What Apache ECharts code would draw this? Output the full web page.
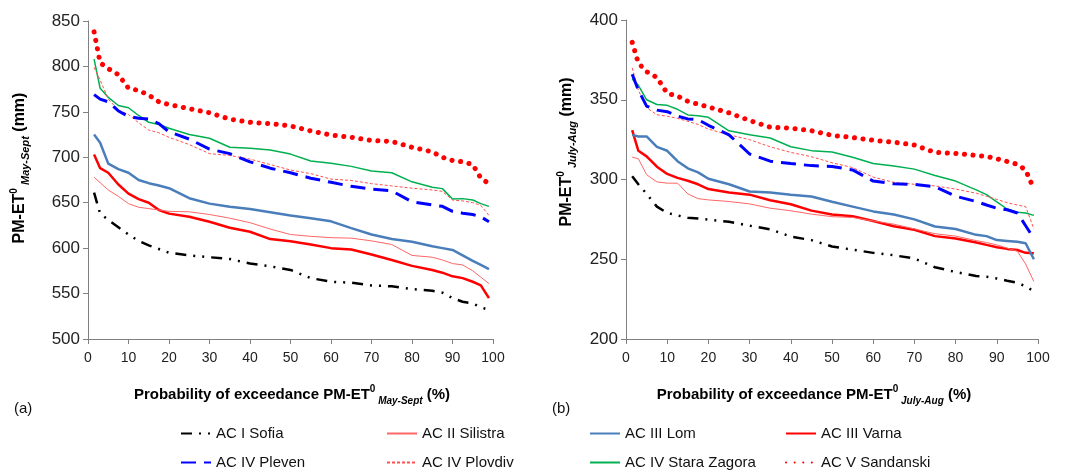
<!DOCTYPE html>
<html>
<head>
<meta charset="UTF-8">
<title>PM-ET0 exceedance</title>
<script src="https://cdn.jsdelivr.net/npm/echarts@6/dist/echarts.min.js"></script>
<style>
	body { margin: 0; background: #fff; }
	#main { width: 1072px; height: 470px; }
</style>
</head>
<body>
<div id="main"></div>
<script type="text/javascript">
	// probability of exceedance (%), shared by both panels
	var xs = [1.5, 3, 5, 7.5, 10, 12.5, 15, 17.5, 20, 25, 30, 35, 40, 45, 50, 55, 60, 65, 70, 75, 80, 85, 87.5, 90, 92.5, 95, 97, 99];
	var yTicksA = [500, 850, 50];
	var yTicksB = [200, 400, 50];

	var names = ['AC I Sofia', 'AC II Silistra', 'AC III Lom', 'AC III Varna',
		'AC IV Pleven', 'AC IV Plovdiv', 'AC IV Stara Zagora', 'AC V Sandanski'];

	// (a) May-Sept
	var sofiaA = [661, 638, 631, 623, 615, 608, 603, 599, 595, 592, 590, 588, 583, 580, 576, 567, 563, 562, 559, 558, 555, 553, 551, 545, 541, 539, 535, 532];
	var silistraA = [678, 672, 664, 657, 649, 645, 643.5, 642, 640.5, 640, 637, 633, 628, 621, 615, 613, 611.5, 611, 608, 604, 592, 590, 587, 583, 581.5, 575, 568, 561];
	var lomA = [725, 716, 693, 687, 683, 675, 671.5, 669, 666, 655, 649, 645.5, 643, 639.5, 636, 633, 629.5, 622, 615, 610, 607, 602, 600, 598, 592, 586, 581.5, 577];
	var varnaA = [703, 688, 683, 670, 660, 654, 650, 642, 638, 634.5, 629, 622.5, 618, 610, 607.5, 604, 600, 598.5, 593, 587, 580.5, 576, 573, 569, 567, 563, 559, 545];
	var plevenA = [769, 764, 761, 751, 745, 743, 742, 737, 728, 720, 709, 704, 695, 688, 683, 677, 672.5, 668, 665, 663, 651, 647.5, 646, 640.5, 638.5, 637, 634.5, 629];
	var plovdivA = [799, 785, 764, 752, 747, 738, 730, 727, 722, 714, 704, 702, 698, 692, 686, 682, 676, 674.5, 671, 668.5, 666, 664, 662.5, 653, 652, 650, 647, 636];
	var zagoraA = [808, 776, 766, 757, 754.5, 746, 738.5, 736, 732, 725, 721, 711, 710, 708, 703.5, 696, 693.5, 690, 685, 683, 673, 667, 665.5, 654, 654.5, 653, 649, 646];
	var sandanskiA = [838, 804, 797.5, 791, 776, 773.5, 768.5, 761, 758, 753.5, 749, 742, 738.5, 737, 734.5, 729, 724.5, 722, 718.5, 717.5, 711, 706, 700, 696.5, 695, 692, 677, 671];

	// (b) July-Aug
	var sofiaB = [302, 297, 291, 283, 279, 277.5, 276, 275.5, 274.8, 273.5, 271, 268.8, 264.2, 262, 258, 256, 254, 252.5, 250.5, 245, 242, 239.5, 239, 238, 236.5, 235.3, 233, 230];
	var silistraB = [314, 313, 303, 298.5, 297.7, 297.7, 291, 288, 287.2, 286.2, 284.7, 282, 280.4, 278.3, 276.7, 276.2, 274, 272, 269, 266, 264.5, 261.7, 260.5, 259, 257, 255, 247, 236];
	var lomB = [328, 327, 327, 320.5, 318, 311.5, 307, 304.5, 300.5, 297, 292.5, 291.8, 290.4, 289.3, 286, 283, 280, 278, 275, 270.5, 269, 265.3, 264.5, 262, 261.5, 261, 260, 250];
	var varnaB = [331, 318, 314.5, 308, 303.5, 301, 299.2, 297, 294, 291.8, 290.5, 287, 284.5, 280.5, 278, 277, 274, 270.7, 268.5, 264.5, 263, 260.5, 259, 257.5, 256.5, 255.8, 254, 253.8];
	var plevenB = [366, 356, 346, 343.5, 342.5, 339.7, 338, 337.5, 334, 328, 316, 311.5, 310, 308.7, 308.2, 306, 299, 297.3, 297, 295.5, 289.5, 286.2, 284, 282, 281, 279, 271, 263];
	var plovdivB = [370, 356, 345, 340.6, 339.7, 338.3, 336.5, 334.5, 331.6, 328, 325, 320.5, 317, 314.3, 310.5, 307.5, 301.5, 298.2, 297, 296, 294, 291.4, 289.5, 287.5, 285.5, 284, 283, 269];
	var zagoraB = [363, 359, 350, 347, 346.5, 344, 340.5, 340, 339, 330.5, 328, 326, 320.5, 318.1, 317.2, 314, 310, 308.5, 306.5, 302.5, 299, 293.5, 290.5, 286, 281.5, 279.5, 279, 277.5];
	var sandanskiB = [386, 373, 367.6, 364, 354, 352.3, 349, 347.2, 345.5, 341.8, 337, 332.8, 332.2, 330.6, 327.7, 326.3, 324.6, 323.4, 321.6, 317, 316.3, 315.1, 314.5, 313, 311.3, 309.5, 306, 294];

	var dataA = [sofiaA, silistraA, lomA, varnaA, plevenA, plovdivA, zagoraA, sandanskiA];
	var dataB = [sofiaB, silistraB, lomB, varnaB, plevenB, plovdivB, zagoraB, sandanskiB];

	// line look of each station, same order as names
	var styles = [
		{ color: '#000000', width: 2.5, type: [11, 7, 2, 7, 2, 7] },
		{ color: '#ff6666', width: 1, type: 'solid' },
		{ color: '#4a7ebb', width: 2.5, type: 'solid' },
		{ color: '#ff0000', width: 2.5, type: 'solid' },
		{ color: '#0000ff', width: 3, type: [15, 8] },
		{ color: '#ff5050', width: 1, type: [3, 2] },
		{ color: '#00b050', width: 1.5, type: 'solid' },
		{ color: '#ff0000', width: 5, type: [0.1, 8.5], cap: 'round' }
	];

	var font = 'Liberation Sans Narrow, Liberation Sans, Arial, sans-serif';
	var fontWide = 'Liberation Sans, Arial, sans-serif';

	function pairs(vals) {
		var out = [];
		for (var i = 0; i < xs.length; i++) {
			out.push([xs[i], vals[i]]);
		}
		return out;
	}

	var series = [];
	for (var g = 0; g < 2; g++) {
		var src = g == 0 ? dataA : dataB;
		for (var i = 0; i < names.length; i++) {
			series.push({
				name: names[i],
				type: 'line',
				xAxisIndex: g,
				yAxisIndex: g,
				symbol: 'none',
				animation: false,
				color: styles[i].color,
				lineStyle: {
					color: styles[i].color,
					width: styles[i].width,
					type: styles[i].type,
					cap: styles[i].cap || 'butt'
				},
				z: 10 - i,
				data: pairs(src[i])
			});
		}
	}

	function xAxisCfg(idx) {
		return {
			type: 'value',
			gridIndex: idx,
			min: 0, max: 100, interval: 10,
			axisLine: { lineStyle: { color: '#808080', width: 1 } },
			axisTick: { show: true, length: 5, lineStyle: { color: '#808080' } },
			splitLine: { show: false },
			axisLabel: { color: '#222', fontSize: 14, fontFamily: font, margin: 12 }
		};
	}
	function yAxisCfg(idx, t) {
		return {
			type: 'value',
			gridIndex: idx,
			min: t[0], max: t[1], interval: t[2],
			axisLine: { show: true, lineStyle: { color: '#808080', width: 1 } },
			axisTick: { show: true, length: 5, lineStyle: { color: '#808080' } },
			splitLine: { show: false },
			axisLabel: { color: '#222', fontSize: 17, fontFamily: fontWide, margin: 8 }
		};
	}

	var rich = {
		b: { fontSize: 16, fontWeight: 'bold', fontFamily: fontWide, color: '#111', lineHeight: 22 },
		sup: { fontSize: 10, fontWeight: 'bold', fontFamily: fontWide, color: '#111', verticalAlign: 'top', lineHeight: 12 },
		s: { fontSize: 11, fontWeight: 'bold', fontStyle: 'italic', fontFamily: fontWide, color: '#111', verticalAlign: 'bottom', lineHeight: 12 }
	};
	var richX = {
		b: { fontSize: 15, fontWeight: 'bold', fontFamily: fontWide, color: '#111', lineHeight: 22 },
		sup: { fontSize: 10, fontWeight: 'bold', fontFamily: fontWide, color: '#111', verticalAlign: 'top', lineHeight: 12 },
		s: { fontSize: 10, fontWeight: 'bold', fontStyle: 'italic', fontFamily: fontWide, color: '#111', verticalAlign: 'bottom', lineHeight: 10 }
	};

	function legendCol(left, items) {
		return {
			orient: 'vertical',
			left: left, top: 426,
			padding: 0,
			height: 44,
			itemWidth: 30, itemHeight: 14, itemGap: 14,
			itemStyle: { opacity: 0 },
			selectedMode: false,
			textStyle: { fontSize: 15, fontFamily: font, color: '#111' },
			data: items
		};
	}

	var myChart = echarts.init(document.getElementById('main'));

	var option = {
		backgroundColor: '#ffffff',
		animation: false,
		grid: [
			{ left: 88, top: 21, width: 405, height: 318 },
			{ left: 626, top: 20, width: 412, height: 319 }
		],
		xAxis: [xAxisCfg(0), xAxisCfg(1)],
		yAxis: [yAxisCfg(0, yTicksA), yAxisCfg(1, yTicksB)],
		legend: [
			legendCol(180, [names[0], names[4]]),
			legendCol(386, [names[1], names[5]]),
			legendCol(589, [names[2], names[6]]),
			legendCol(785, [names[3], names[7]])
		],
		graphic: [
			{ type: 'text', left: 14, top: 401, style: { text: '(a)', font: '15px ' + fontWide, fill: '#111' } },
			{ type: 'text', left: 552, top: 401, style: { text: '(b)', font: '15px ' + fontWide, fill: '#111' } },
			{ type: 'text', x: 292, y: 395, style: { text: '{b|Probability of exceedance PM-ET}{sup|0}{s| May-Sept}{b| (%)}', rich: richX, align: 'center', verticalAlign: 'middle' } },
			{ type: 'text', x: 814, y: 395, style: { text: '{b|Probability of exceedance PM-ET}{sup|0}{s| July-Aug}{b| (%)}', rich: richX, align: 'center', verticalAlign: 'middle' } },
			{ type: 'text', x: 20, y: 168, rotation: Math.PI / 2, style: { text: '{b|PM-ET}{sup|0}{s| May-Sept}{b| (mm)}', rich: rich, align: 'center', verticalAlign: 'middle' } },
			{ type: 'text', x: 567, y: 152, rotation: Math.PI / 2, style: { text: '{b|PM-ET}{sup|0}{s| July-Aug}{b| (mm)}', rich: rich, align: 'center', verticalAlign: 'middle' } }
		],
		series: series
	};

	myChart.setOption(option);
</script>
</body>
</html>
